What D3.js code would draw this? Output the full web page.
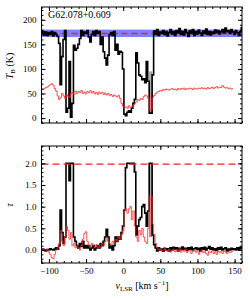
<!DOCTYPE html>
<html lang="en">
<head>
  <meta charset="UTF-8">
  <title>G62.078+0.609</title>
  <style>
    body { margin: 0; background: #fff; }
    text { font-family: "Liberation Serif", "DejaVu Serif", serif; fill: #000; }
    .axis text { font-size: 9px; }
    .axis path, .axis line { stroke: #000; }
  </style>
</head>
<body>
  <div id="app"></div>
  <script src="https://cdn.jsdelivr.net/npm/d3@7"></script>
  <script>
    // channel velocities, 2 km/s grid
    const vel = d3.range(-110, 161, 2)

    // top panel: on-source brightness temperature (K)
    const tbOn = [
      172, 176, 169, 175, 168, 174, 170, 176, 167, 174,
      170, 166, 152, 68, 125, 160, 178, 12, 20, 115,
      2, 30, 148, 138, 142, 150, 162, 178, 168, 175,
      172, 178, 165, 155, 170, 176, 168, 178, 172, 176,
      150, 165, 135, 122, 108, 128, 170, 174, 168, 176,
      138, 150, 130, 136, 134, 100, 8, 5, 12, 15,
      12, 20, 30, 38, 133, 112, 88, 85, 78, 80,
      72, 115, 75, 10, 10, 88, 177, 170, 180, 168,
      175, 172, 178, 170, 176, 167, 174, 180, 171, 176,
      168, 178, 173, 182, 170, 176, 169, 180, 174, 166,
      178, 172, 180, 168, 176, 171, 179, 173, 168, 177,
      172, 181, 170, 176, 169, 175, 172, 179, 174, 178,
      171, 176, 180, 173, 183, 176, 178, 172, 180, 175,
      170, 178, 174, 168, 176, 184
    ]
    // top panel: off-source / emission estimate (K)
    const tbOff = [
      57, 58, 60, 62, 63, 66, 68, 70, 67, 60,
      55, 45, 38, 42, 50, 45, 40, 48, 44, 42,
      50, 52, 48, 55, 50, 54, 52, 56, 50, 53,
      49, 54, 52, 56, 51, 54, 49, 52, 48, 53,
      50, 52, 48, 51, 47, 50, 46, 48, 44, 47,
      45, 43, 46, 40, 30, 24, 22, 23, 20, 25,
      22, 24, 26, 30, 33, 38, 36, 40, 38, 44,
      47, 45, 40, 15, 17, 42, 46, 50, 53, 54,
      56, 55, 58, 57, 59, 58, 57, 59, 60, 58,
      59, 57, 60, 58, 60, 59, 61, 58, 60, 59,
      61, 60, 58, 61, 60, 59, 61, 60, 62, 60,
      61, 59, 62, 60, 61, 63, 60, 62, 64, 61,
      63, 62, 66, 63, 61, 62, 60, 61, 59, 60,
      null, null, null, null, null, null
    ]
    // bottom panel: optical depth
    const tauOn = [
      0.0, 0.02, 0.0, -0.02, 0.01, 0.0, 0.03, 0.01, 0.0, 0.02,
      0.05, 0.02, 0.1, 0.92, 0.4, 0.15, 0.3, 2.0, 2.0, 1.6,
      2.0, 2.0, 0.3, 0.2, 0.1, 0.05, 0.15, 0.08, 0.2, 0.05,
      0.1, 0.05, 0.1, 0.0, 0.05, 0.1, 0.0, 0.05, 0.1, 0.05,
      0.15, 0.1, 0.2, 0.3, 0.48, 0.3, 0.05, 0.1, 0.0, 0.1,
      0.3, 0.2, 0.3, 0.25, 0.4, 0.55, 0.92, 1.9, 2.0, 2.0,
      2.0, 2.0, 2.0, 1.8, 0.35, 0.55, 0.7, 0.75, 1.0, 1.05,
      0.85, 0.55, 0.9, 2.0, 2.0, 0.35, 0.12, 0.05, -0.02, 0.05,
      0.0, 0.02, -0.03, 0.04, 0.0, 0.03, -0.02, 0.05, 0.0, 0.06,
      0.02, 0.05, -0.02, 0.04, 0.01, 0.07, 0.02, 0.04, -0.01, 0.05,
      0.02, 0.06, 0.0, 0.03, 0.05, 0.01, 0.04, -0.02, 0.05, 0.02,
      0.06, 0.0, 0.04, 0.08, 0.02, 0.05, 0.0, 0.03, -0.01, 0.05,
      0.02, 0.06, 0.0, 0.03, 0.05, -0.02, 0.02, 0.0, 0.04, 0.01,
      0.03, 0.0, 0.05, 0.02, 0.06, 0.03
    ]
    const tauOff = [
      0.0, 0.02, 0.0, -0.02, 0.01, -0.05, -0.1, -0.18, -0.2, -0.1,
      0.0, 0.05, 0.15, 0.45, 0.2, 0.1, 0.3, 0.55, 0.45, 0.25,
      0.4, 0.1, 0.15, 0.05, 0.1, 0.05, 0.0, 0.1, 0.25, 0.38,
      0.42, 0.2, 0.1, 0.05, 0.15, 0.1, 0.05, 0.12, 0.05, 0.1,
      0.05, 0.15, 0.1, 0.2, 0.3, 0.2, 0.15, 0.1, 0.2, 0.15,
      0.25, 0.2, 0.3, 0.25, 0.35, 0.45, 0.9, 0.95, 0.85, 0.95,
      1.0, 0.7, 0.9, 0.55, 0.3, 0.2, 0.45, 0.35, 0.5, 0.3,
      0.2, 0.15, 0.5, 1.25, 1.25, 0.6, 0.35, 0.15, 0.05, 0.0,
      0.02, 0.0, -0.02, 0.03, 0.0, -0.03, 0.02, -0.05, 0.0, 0.02,
      -0.04, 0.01, -0.02, 0.03, -0.05, 0.0, -0.03, 0.02, -0.06, -0.02,
      0.0, -0.08, -0.03, 0.01, -0.05, -0.02, -0.1, -0.04, 0.0, -0.06,
      -0.02, -0.08, -0.12, -0.03, -0.06, -0.01, -0.08, -0.04, -0.1, -0.02,
      -0.06, -0.03, -0.08, -0.02, -0.05, -0.08, -0.03, -0.06, -0.04, -0.02,
      null, null, null, null, null, null
    ]

    // uncertainty fills (channel velocity, low, high)
    const tbGrayVel = [-84, 36, 38]
    const tbGrayLo = [68, 54, 54]
    const tbGrayHi = [146, 95, 95]
    const tbRedVel = [36, 38]
    const tbRedLo = [10, 10]
    const tbRedHi = [54, 54]
    const tauGrayVel = [-84, -72, 16, 36, 38]
    const tauGrayLo = [0.4, 1.6, 1.8, 1.25, 1.25]
    const tauGrayHi = [0.92, 2.0, 2.0, 2.0, 2.0]
    const tauRedVel = [36, 38]
    const tauRedLo = [0.3, 0.3]
    const tauRedHi = [1.25, 1.25]

    // continuum level and its range, tau saturation limit
    const tCont = 172
    const tContLo = 165
    const tContHi = 180
    const tauMax = 1.98

    const xTicks = [-100, -50, 0, 50, 100, 150]
    const tbTicks = [0, 50, 100, 150, 200]
    const tauTicks = [0, 0.5, 1, 1.5, 2]
    const sourceName = 'G62.078+0.609'

    const W = 250, H = 300
    const left = 41.5, right = 242
    const svg = d3.select('#app').append('svg')
      .attr('width', W).attr('height', H)

    const x = d3.scaleLinear().domain([-110, 160]).range([left, right])
    const yTop = d3.scaleLinear().domain([-10, 226]).range([123, 7])
    const yBot = d3.scaleLinear().domain([-0.3, 2.4]).range([263, 146])

    function panel(id, y) {
      const g = svg.append('g')
      svg.append('clipPath').attr('id', id)
        .append('rect')
        .attr('x', left).attr('y', y.range()[1])
        .attr('width', right - left).attr('height', y.range()[0] - y.range()[1])
      return g.append('g').attr('clip-path', `url(#${id})`)
    }

    function stepLine(vals, y) {
      return d3.line()
        .defined(d => d[1] != null)
        .x(d => x(d[0]))
        .y(d => y(d[1]))
        .curve(d3.curveStep)(vel.map((v, i) => [v, vals[i]]))
    }

    function fillRects(g, vs, lo, hi, y, color) {
      g.selectAll(null).data(vs).enter()
        .append('rect')
        .attr('x', d => x(d - 1))
        .attr('width', d => x(d + 1) - x(d - 1))
        .attr('y', (d, i) => y(hi[i]))
        .attr('height', (d, i) => y(lo[i]) - y(hi[i]))
        .attr('fill', color)
    }

    function frame(y, majorY, minorY, showX) {
      const y0 = y.range()[0], y1 = y.range()[1]
      const minorX = d3.range(-110, 161, 10)
      const ax = (a) => a.attr('class', 'axis')
      // minor ticks
      svg.append('g').attr('transform', `translate(0,${y0})`).call(ax)
        .call(d3.axisBottom(x).tickValues(minorX).tickSize(-2).tickFormat(''))
      svg.append('g').attr('transform', `translate(0,${y1})`).call(ax)
        .call(d3.axisTop(x).tickValues(minorX).tickSize(-2).tickFormat(''))
      svg.append('g').attr('transform', `translate(${left},0)`).call(ax)
        .call(d3.axisLeft(y).tickValues(minorY).tickSize(-2).tickFormat(''))
      svg.append('g').attr('transform', `translate(${right},0)`).call(ax)
        .call(d3.axisRight(y).tickValues(minorY).tickSize(-2).tickFormat(''))
      // major ticks
      svg.append('g').attr('transform', `translate(0,${y0})`).call(ax)
        .call(d3.axisBottom(x).tickValues(xTicks).tickSize(-4).tickPadding(5)
          .tickFormat(showX ? (d => d < 0 ? '\u2212' + Math.abs(d) : d) : ''))
      svg.append('g').attr('transform', `translate(0,${y1})`).call(ax)
        .call(d3.axisTop(x).tickValues(xTicks).tickSize(-4).tickFormat(''))
      svg.append('g').attr('transform', `translate(${left},0)`).call(ax)
        .call(d3.axisLeft(y).tickValues(majorY).tickSize(-4).tickPadding(5)
          .tickFormat(d => Number.isInteger(d) && majorY[1] >= 1 ? d : d.toFixed(1)))
      svg.append('g').attr('transform', `translate(${right},0)`).call(ax)
        .call(d3.axisRight(y).tickValues(majorY).tickSize(-4).tickFormat(''))
      svg.selectAll('.axis .domain').remove()
      svg.append('rect')
        .attr('x', left).attr('y', y1)
        .attr('width', right - left).attr('height', y0 - y1)
        .attr('fill', 'none').attr('stroke', '#000').attr('stroke-width', 1)
    }

    // ---- top panel
    const gt = panel('clipTop', yTop)
    gt.append('rect')
      .attr('x', left).attr('width', right - left)
      .attr('y', yTop(tContHi)).attr('height', yTop(tContLo) - yTop(tContHi))
      .attr('fill', '#7f7fff')
    gt.append('line')
      .attr('x1', left).attr('x2', right)
      .attr('y1', yTop(tCont)).attr('y2', yTop(tCont))
      .attr('stroke', '#e8213a').attr('stroke-width', 1.5).attr('stroke-dasharray', '6,4')
    fillRects(gt, tbGrayVel, tbGrayLo, tbGrayHi, yTop, '#9a9a9a')
    fillRects(gt, tbRedVel, tbRedLo, tbRedHi, yTop, '#e06060')
    gt.append('path').attr('d', stepLine(tbOn, yTop))
      .attr('fill', 'none').attr('stroke', '#000').attr('stroke-width', 1.6)
    gt.append('path').attr('d', stepLine(tbOff, yTop))
      .attr('fill', 'none').attr('stroke', '#ff2a2a').attr('stroke-width', 0.8)

    frame(yTop, tbTicks, d3.range(-10, 226, 10), false)

    svg.append('text')
      .attr('x', 48).attr('y', 18)
      .attr('font-size', 10)
      .text(sourceName)

    // ---- bottom panel
    const gb = panel('clipBot', yBot)
    fillRects(gb, tauGrayVel, tauGrayLo, tauGrayHi, yBot, '#9a9a9a')
    fillRects(gb, tauRedVel, tauRedLo, tauRedHi, yBot, '#e06060')
    gb.append('path').attr('d', stepLine(tauOn, yBot))
      .attr('fill', 'none').attr('stroke', '#000').attr('stroke-width', 1.6)
    gb.append('path').attr('d', stepLine(tauOff, yBot))
      .attr('fill', 'none').attr('stroke', '#ff2a2a').attr('stroke-width', 0.8)
    gb.append('line')
      .attr('x1', left).attr('x2', right)
      .attr('y1', yBot(tauMax)).attr('y2', yBot(tauMax))
      .attr('stroke', '#ee2222').attr('stroke-width', 1.3).attr('stroke-dasharray', '7,4')

    frame(yBot, tauTicks, d3.range(-0.3, 2.41, 0.1).map(d => +d.toFixed(1)), true)

    // ---- axis labels
    const tl = svg.append('text')
      .attr('transform', 'translate(13,66) rotate(-90)')
      .attr('text-anchor', 'middle').attr('font-size', 10)
    tl.append('tspan').attr('font-style', 'italic').text('T')
    tl.append('tspan').attr('font-size', 7).attr('dy', 2).text('B')
    tl.append('tspan').attr('dy', -2).text(' (K)')

    svg.append('text')
      .attr('transform', 'translate(13,205) rotate(-90)')
      .attr('text-anchor', 'middle').attr('font-size', 10)
      .attr('font-style', 'italic')
      .text('\u03c4')

    const xl = svg.append('text')
      .attr('x', 142).attr('y', 289)
      .attr('text-anchor', 'middle').attr('font-size', 10)
    xl.append('tspan').attr('font-style', 'italic').text('v')
    xl.append('tspan').attr('font-size', 7).attr('dy', 2).text('LSR')
    xl.append('tspan').attr('dy', -2).text(' [km s')
    xl.append('tspan').attr('font-size', 7).attr('dy', -4).text('\u22121')
    xl.append('tspan').attr('dy', 4).text(']')
  </script>
</body>
</html>
